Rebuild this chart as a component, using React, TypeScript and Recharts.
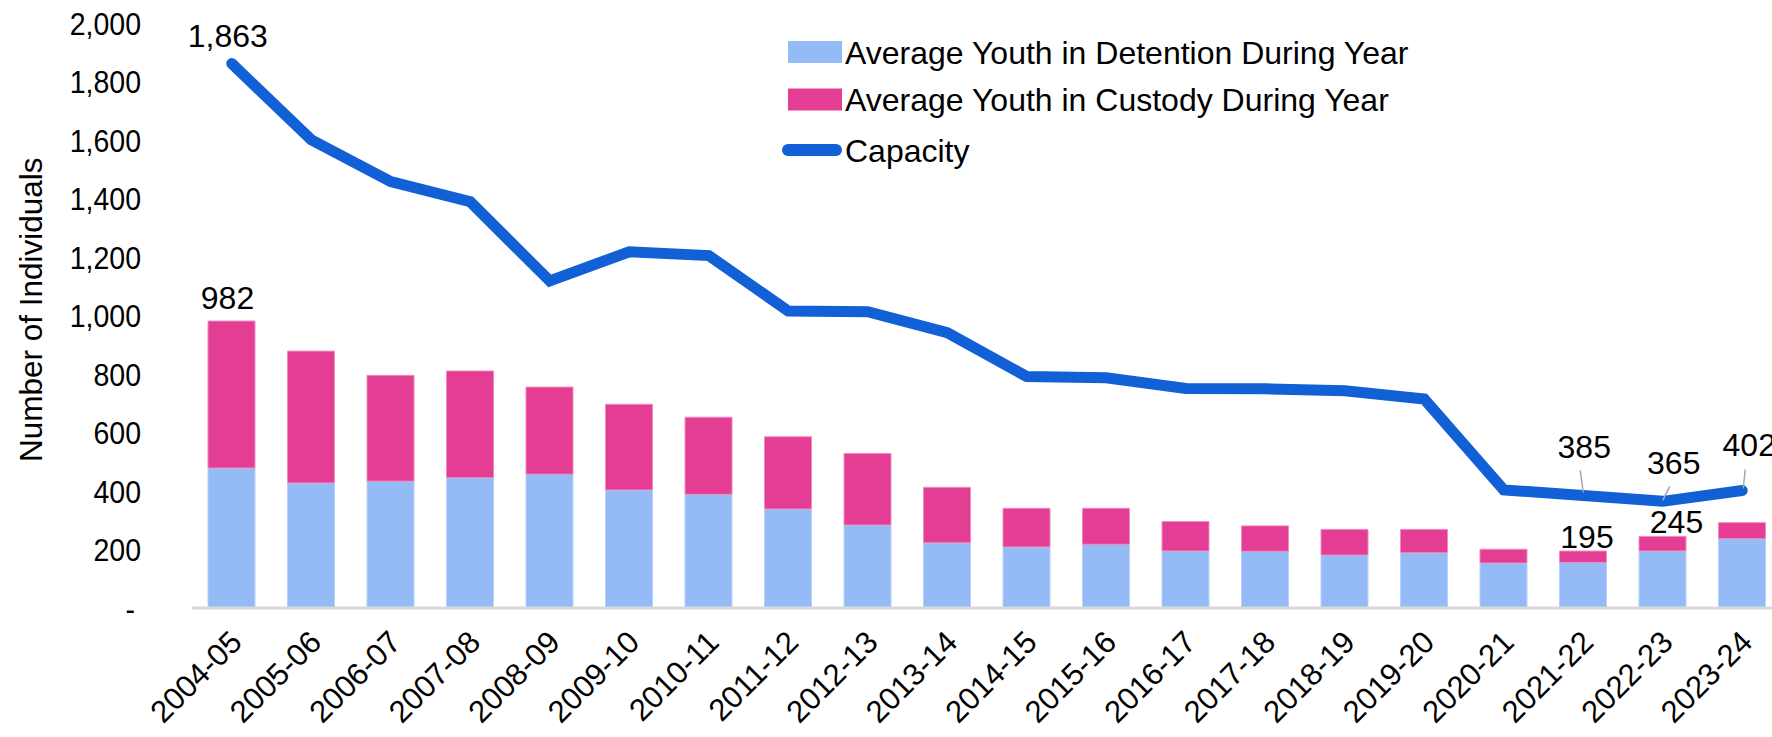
import React from 'react';
import { Bar, ComposedChart, LabelList, Legend, Line, XAxis, YAxis } from 'recharts';

const YEARS = [
  '2004-05', '2005-06', '2006-07', '2007-08', '2008-09', '2009-10', '2010-11',
  '2011-12', '2012-13', '2013-14', '2014-15', '2015-16', '2016-17', '2017-18',
  '2018-19', '2019-20', '2020-21', '2021-22', '2022-23', '2023-24',
];
const DETENTION = [479, 428, 434, 446, 458, 404, 389, 339, 284, 223, 209, 218, 195, 194, 181, 189, 154, 156, 195, 237];
const CUSTODY = [503, 451, 362, 365, 298, 293, 264, 247, 245, 190, 132, 123, 101, 87, 88, 80, 47, 39, 50, 55];
const CAPACITY = [1863, 1602, 1459, 1390, 1119, 1219, 1206, 1016, 1014, 942, 792, 788, 751, 750, 743, 715, 404, 385, 365, 402];
const Y_TICKS = [0, 200, 400, 600, 800, 1000, 1200, 1400, 1600, 1800, 2000];

const data = YEARS.map((year, i) => ({
  year,
  detention: DETENTION[i],
  custody: CUSTODY[i],
  total: DETENTION[i] + CUSTODY[i],
  capacity: CAPACITY[i],
}));

const FONT = '"Liberation Sans", Arial, Helvetica, sans-serif';
const BLUE_LIGHT = '#94bbf6';
const PINK = '#e43e94';
const LINE_BLUE = '#1160d6';

// label placement tweaks (offsets from the point / bar top)
const CAP_LABELS: Record<number, { dx: number; dy: number; leader?: number[] }> = {
  0: { dx: -4, dy: -17 },
  17: { dx: 1, dy: -37, leader: [-3, -25, 0, -3] },
  18: { dx: 11, dy: -27, leader: [7, -15, 0, -1] },
  19: { dx: 7, dy: -35, leader: [3, -21, 1, -2] },
};
const TOTAL_LABELS: Record<number, { dx: number; dy: number }> = {
  0: { dx: -4, dy: -12 },
  17: { dx: 4, dy: -3 },
  18: { dx: 14, dy: -3 },
};

const fmt = (v: number) => v.toLocaleString('en-US');

const CapacityLabel = (props: any) => {
  const { index, value } = props;
  const x = props.x ?? props.viewBox?.x;
  const y = props.y ?? props.viewBox?.y;
  const o = CAP_LABELS[index];
  if (!o) return null;
  return (
    <g>
      {o.leader && (
        <line
          x1={x + o.leader[0]}
          y1={y + o.leader[1]}
          x2={x + o.leader[2]}
          y2={y + o.leader[3]}
          stroke="#a6a6a6"
          strokeWidth={1.5}
        />
      )}
      <text x={x + o.dx} y={y + o.dy} textAnchor="middle" fontSize={32} fontFamily={FONT} fill="#000">
        {fmt(value)}
      </text>
    </g>
  );
};

const TotalLabel = (props: any) => {
  const { index, value } = props;
  const vb = props.viewBox || {};
  const x = (props.x ?? vb.x) + (props.width ?? vb.width) / 2;
  const y = props.y ?? vb.y;
  const o = TOTAL_LABELS[index];
  if (!o) return null;
  return (
    <text x={x + o.dx} y={y + o.dy} textAnchor="middle" fontSize={32} fontFamily={FONT} fill="#000">
      {fmt(value)}
    </text>
  );
};

const YTick = ({ x, y, payload }: any) => {
  const v = payload.value;
  return (
    <text
      transform={`translate(${v === 0 ? x - 6 : x},${y + 11.5}) scale(0.89,1)`}
      textAnchor="end"
      fontSize={32}
      fontFamily={FONT}
      fill="#000"
    >
      {v === 0 ? '-' : fmt(v)}
    </text>
  );
};

const XTick = ({ x, y, payload }: any) => (
  <text
    transform={`translate(${x + 12},${y + 36}) rotate(-45)`}
    textAnchor="end"
    fontSize={31}
    fontFamily={FONT}
    fill="#000"
  >
    {payload.value}
  </text>
);

const LegendBox = ({ payload }: any) => {
  const items = payload || [];
  const name = (key: string, d: string) => {
    const it = items.find((p: any) => p.dataKey === key);
    return (it && it.value) || d;
  };
  return (
    <svg width={700} height={145} style={{ display: 'block' }}>
      <rect x={28} y={11} width={54} height={22} fill={BLUE_LIGHT} />
      <text x={85} y={33.5} fontSize={32} fontFamily={FONT} fill="#000">
        {name('detention', 'Average Youth in Detention During Year')}
      </text>
      <rect x={28} y={58.5} width={54} height={22} fill={PINK} />
      <text x={85} y={81} fontSize={32} fontFamily={FONT} fill="#000">
        {name('custody', 'Average Youth in Custody During Year')}
      </text>
      <line x1={28} x2={76} y1={120} y2={120} stroke={LINE_BLUE} strokeWidth={12} strokeLinecap="round" />
      <text x={85} y={131.5} fontSize={32} fontFamily={FONT} fill="#000">
        {name('capacity', 'Capacity')}
      </text>
    </svg>
  );
};

const YTitle = ({ viewBox }: any) => {
  const cy = viewBox.y + viewBox.height / 2 - 6;
  return (
    <text
      transform={`translate(42,${cy}) rotate(-90)`}
      textAnchor="middle"
      fontSize={31.5}
      fontFamily={FONT}
      fill="#000"
    >
      Number of Individuals
    </text>
  );
};

export default function App() {
  return (
    <div
      style={{
        position: 'absolute',
        left: 0,
        top: 0,
        width: 1772,
        height: 737,
        overflow: 'hidden',
        background: '#fff',
      }}
    >
      <ComposedChart
        width={1800}
        height={737}
        data={data}
        margin={{ top: 23.5, right: 18, left: 0, bottom: 0 }}
      >
        <XAxis
          dataKey="year"
          interval={0}
          height={129}
          tickLine={false}
          tickSize={0}
          tickMargin={0}
          axisLine={{ stroke: '#d9d9d9', strokeWidth: 3 }}
          tick={<XTick />}
        />
        <YAxis
          domain={[0, 2000]}
          ticks={Y_TICKS}
          width={192}
          axisLine={false}
          tickLine={false}
          tickSize={0}
          tickMargin={51}
          tick={<YTick />}
          label={<YTitle />}
        />
        <Legend
          layout="vertical"
          align="center"
          verticalAlign="middle"
          wrapperStyle={{ left: 760, top: 30, width: 700, height: 145 }}
          content={<LegendBox />}
        />
        <Bar
          dataKey="detention"
          name="Average Youth in Detention During Year"
          stackId="a"
          fill={BLUE_LIGHT}
          stroke="#b8d2fa"
          strokeWidth={1}
          barSize={47}
          isAnimationActive={false}
        />
        <Bar
          dataKey="custody"
          name="Average Youth in Custody During Year"
          stackId="a"
          fill={PINK}
          stroke="#ee8cbf"
          strokeWidth={1}
          barSize={47}
          isAnimationActive={false}
        >
          <LabelList dataKey="total" content={<TotalLabel />} />
        </Bar>
        <Line
          dataKey="capacity"
          name="Capacity"
          type="linear"
          stroke={LINE_BLUE}
          strokeWidth={11}
          strokeLinecap="round"
          strokeLinejoin="miter"
          dot={false}
          activeDot={false}
          isAnimationActive={false}
        >
          <LabelList dataKey="capacity" content={<CapacityLabel />} />
        </Line>
      </ComposedChart>
    </div>
  );
}
